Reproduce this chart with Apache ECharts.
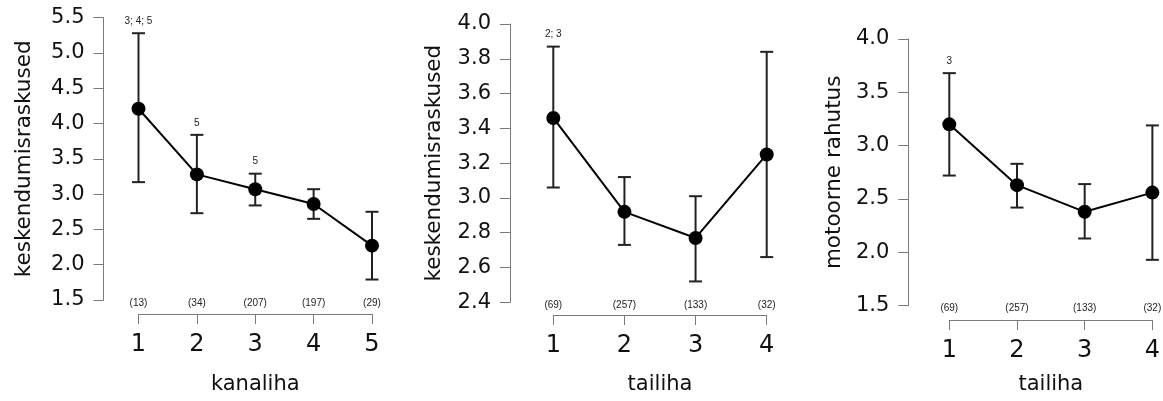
<!DOCTYPE html>
<html>
<head>
<meta charset="utf-8">
<script src="https://cdn.jsdelivr.net/npm/echarts@6/dist/echarts.min.js"></script>
<style>
html,body{margin:0;padding:0;background:#fff;}
#c{width:1163px;height:401px;}
</style>
</head>
<body>
<div id="c"></div>
<script>
// Panel 1: kanaliha vs keskendumisraskused
const cats1 = [1, 2, 3, 4, 5];
const mean1 = [4.21, 3.28, 3.07, 2.86, 2.27];
const lo1 = [3.17, 2.73, 2.84, 2.65, 1.79];
const hi1 = [5.28, 3.84, 3.29, 3.07, 2.75];
const n1 = ['(13)', '(34)', '(207)', '(197)', '(29)'];
const note1 = ['3; 4; 5', '5', '5', '', ''];

// Panel 2: tailiha vs keskendumisraskused
const cats2 = [1, 2, 3, 4];
const mean2 = [3.46, 2.92, 2.77, 3.25];
const lo2 = [3.06, 2.73, 2.52, 2.66];
const hi2 = [3.87, 3.12, 3.01, 3.84];
const n2 = ['(69)', '(257)', '(133)', '(32)'];
const note2 = ['2; 3', '', '', ''];

// Panel 3: tailiha vs motoorne rahutus
const cats3 = [1, 2, 3, 4];
const mean3 = [3.20, 2.63, 2.38, 2.56];
const lo3 = [2.72, 2.42, 2.13, 1.93];
const hi3 = [3.68, 2.83, 2.64, 3.19];
const n3 = ['(69)', '(257)', '(133)', '(32)'];
const note3 = ['3', '', '', ''];

const yTitle1 = 'keskendumisraskused';
const yTitle2 = 'keskendumisraskused';
const yTitle3 = 'motoorne rahutus';
const xTitle1 = 'kanaliha';
const xTitle2 = 'tailiha';
const xTitle3 = 'tailiha';

const FONT = "'DejaVu Sans', sans-serif";
const SMALL = "'Liberation Sans', Arial, sans-serif";
const AXC = '#7a7a7a';

const panels = [
  {cats: cats1, mean: mean1, lo: lo1, hi: hi1, n: n1, note: note1, ymin: 1.5, ymax: 5.5, yint: 0.5,
   grid: {left: 138.5, top: 17.7, width: 233.5, height: 282.3}, yoff: 35, xoff: 14, yTitle: yTitle1, xTitle: xTitle1, yGap: 68, xGap: 60},
  {cats: cats2, mean: mean2, lo: lo2, hi: hi2, n: n2, note: note2, ymin: 2.4, ymax: 4.0, yint: 0.2,
   grid: {left: 553.3, top: 24, width: 213.4, height: 278.3}, yoff: 43.3, xoff: 12.7, yTitle: yTitle2, xTitle: xTitle2, yGap: 64.5, xGap: 59.5},
  {cats: cats3, mean: mean3, lo: lo3, hi: hi3, n: n3, note: note3, ymin: 1.5, ymax: 4.0, yint: 0.5,
   grid: {left: 949.3, top: 39, width: 204.7, height: 266.7}, yoff: 41, xoff: 14.3, yTitle: yTitle3, xTitle: xTitle3, yGap: 63, xGap: 54.5}
];

const grid = [], xAxis = [], yAxis = [], series = [];
panels.forEach((p, k) => {
  grid.push(Object.assign({}, p.grid));
  xAxis.push({
    type: 'value', gridIndex: k, min: p.cats[0], max: p.cats[p.cats.length - 1], interval: 1,
    position: 'bottom', offset: p.xoff,
    axisLine: {show: true, lineStyle: {color: AXC, width: 1}},
    axisTick: {show: true, length: 10, lineStyle: {color: AXC, width: 1}},
    axisLabel: {fontSize: 24, color: '#111', fontFamily: FONT, margin: 19},
    splitLine: {show: false},
    name: p.xTitle, nameLocation: 'middle', nameGap: p.xGap,
    nameTextStyle: {fontSize: 21, color: '#111', fontFamily: FONT}
  });
  yAxis.push({
    type: 'value', gridIndex: k, min: p.ymin, max: p.ymax, interval: p.yint,
    position: 'left', offset: p.yoff,
    axisLine: {show: true, lineStyle: {color: AXC, width: 1}},
    axisTick: {show: true, length: 10, lineStyle: {color: AXC, width: 1}},
    axisLabel: {fontSize: 21, color: '#111', fontFamily: FONT, margin: 19,
      formatter: v => Number(v).toFixed(1)},
    splitLine: {show: false},
    name: p.yTitle, nameLocation: 'middle', nameGap: p.yGap,
    nameTextStyle: {fontSize: 21.5, color: '#111', fontFamily: FONT}
  });
  series.push({
    type: 'custom', xAxisIndex: k, yAxisIndex: k, clip: false, z: 2,
    data: p.cats.map((c, i) => [c, p.lo[i], p.hi[i]]),
    encode: {x: 0, y: [1, 2]},
    renderItem: (params, api) => {
      const i = params.dataIndex;
      const x = api.value(0);
      const top = api.coord([x, api.value(2)]);
      const bot = api.coord([x, api.value(1)]);
      const base = api.coord([x, p.ymin]);
      const cw = 6.5;
      const st = {stroke: '#222', lineWidth: 2};
      const children = [
        {type: 'line', shape: {x1: top[0], y1: top[1], x2: bot[0], y2: bot[1]}, style: st},
        {type: 'line', shape: {x1: top[0] - cw, y1: top[1], x2: top[0] + cw, y2: top[1]}, style: st},
        {type: 'line', shape: {x1: bot[0] - cw, y1: bot[1], x2: bot[0] + cw, y2: bot[1]}, style: st},
        {type: 'text', style: {text: p.n[i], x: base[0], y: base[1] + 3, align: 'center', verticalAlign: 'middle',
          fontSize: 10, fontFamily: SMALL, fill: '#222'}}
      ];
      if (p.note[i]) {
        children.push({type: 'text', style: {text: p.note[i], x: top[0], y: top[1] - 12, align: 'center', verticalAlign: 'middle',
          fontSize: 10, fontFamily: SMALL, fill: '#222'}});
      }
      return {type: 'group', children: children};
    }
  });
  series.push({
    type: 'line', xAxisIndex: k, yAxisIndex: k, clip: false, z: 3,
    data: p.cats.map((c, i) => [c, p.mean[i]]),
    symbol: 'circle', symbolSize: 14, showSymbol: true,
    itemStyle: {color: '#000'}, lineStyle: {color: '#000', width: 2},
    emphasis: {disabled: true}, animation: false
  });
});

const chart = echarts.init(document.getElementById('c'), null, {renderer: 'canvas'});
chart.setOption({
  animation: false,
  backgroundColor: '#fff',
  grid: grid, xAxis: xAxis, yAxis: yAxis, series: series
});
</script>
</body>
</html>
